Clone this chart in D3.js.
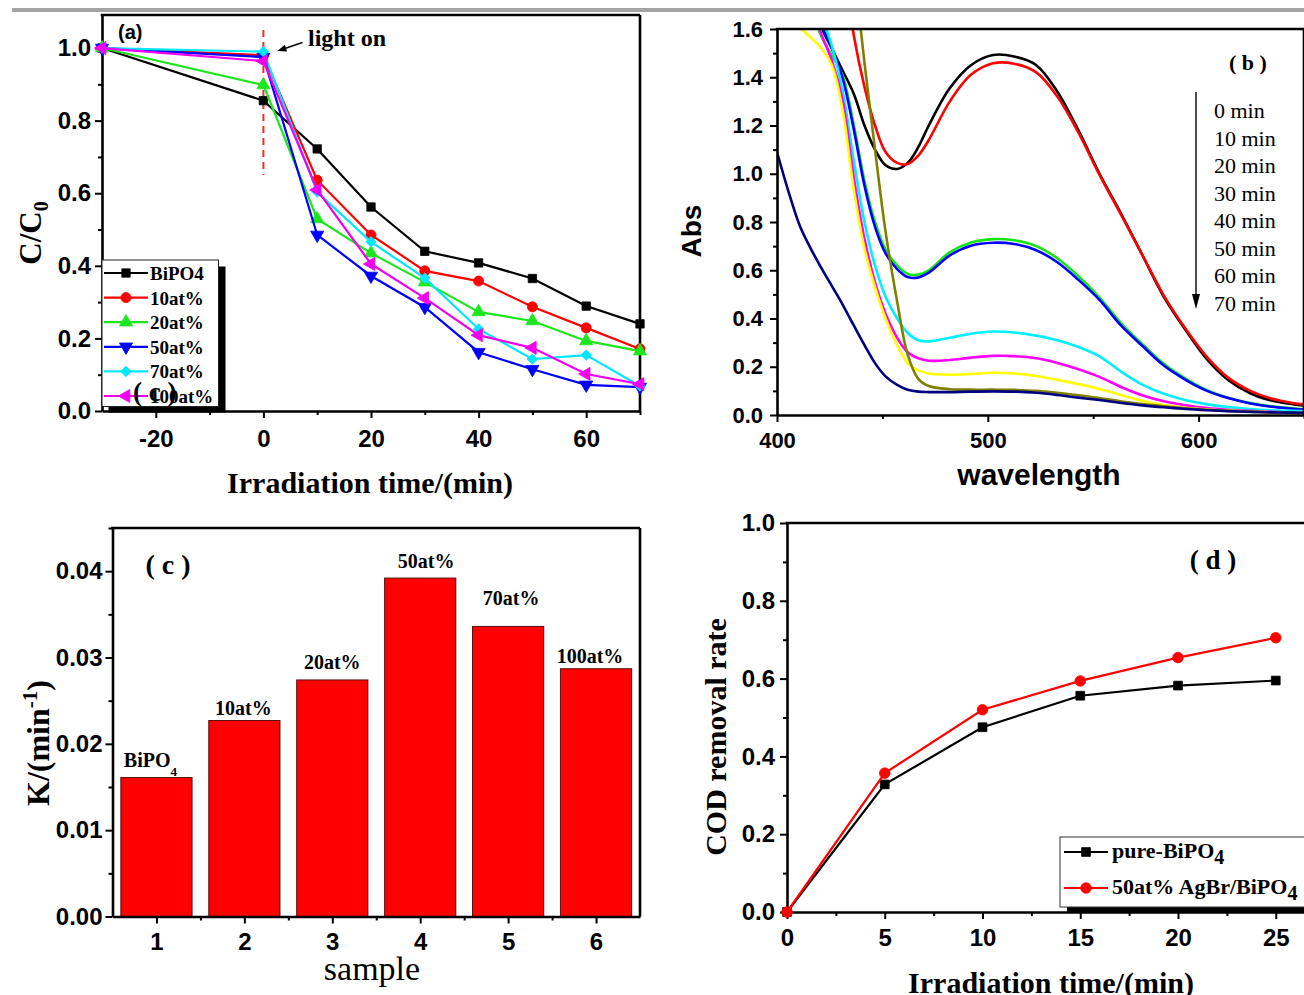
<!DOCTYPE html>
<html><head><meta charset="utf-8">
<script src="https://cdn.jsdelivr.net/npm/d3@7"></script>
<style>
html,body{margin:0;padding:0;background:#fff;}
svg{display:block;}
</style></head><body>
<svg id="fig" width="1304" height="995"></svg>
<script>
// ================= DATA =================
// Panel (a): C/C0 vs irradiation time
const timeA = [-30, 0, 10, 20, 30, 40, 50, 60, 70];
const namesA = ["BiPO4", "10at%", "20at%", "50at%", "70at%", "100at%"];
const bipo4A = [1.0, 0.855, 0.722, 0.562, 0.44, 0.408, 0.365, 0.289, 0.24];
const at10A  = [1.0, 0.98, 0.636, 0.485, 0.386, 0.358, 0.287, 0.229, 0.171];
const at20A  = [1.0, 0.898, 0.529, 0.435, 0.355, 0.273, 0.248, 0.193, 0.165];
const at50A  = [1.0, 0.975, 0.485, 0.372, 0.286, 0.162, 0.115, 0.072, 0.066];
const at70A  = [1.0, 0.99, 0.603, 0.466, 0.366, 0.226, 0.143, 0.154, 0.069];
const at100A = [1.0, 0.964, 0.609, 0.405, 0.311, 0.209, 0.174, 0.102, 0.074];
const xTicksA = [-20, 0, 20, 40, 60];
const xMinorA = [-10, 10, 30, 50, 70];
const yTicksA = [0, 0.2, 0.4, 0.6, 0.8, 1.0];
const yMinorA = [0.1, 0.3, 0.5, 0.7, 0.9];

// Panel (b): absorption spectra
const wavelengthB = [400,406,411,416,421,426,431,436.5,441.5,446.5,451.5,457,462,467,472,482,492,502.5,512.5,523,533,543,553,563.5,573.5,583.5,594,604,614,624.5,634.5,644.5,655];
const spec1 = [2.4,2.2,2.0,1.8,1.61,1.52,1.43,1.33,1.2,1.1,1.035,1.02,1.045,1.11,1.2,1.355,1.45,1.492,1.486,1.45,1.34,1.18,1.0,0.83,0.66,0.49,0.35,0.23,0.145,0.09,0.06,0.045,0.035];
const spec2 = [2.6,2.5,2.4,2.3,2.2,2.1,1.9,1.57,1.36,1.2,1.09,1.045,1.04,1.075,1.14,1.3,1.41,1.458,1.456,1.42,1.32,1.17,0.995,0.825,0.66,0.495,0.355,0.24,0.155,0.1,0.068,0.05,0.04];
const spec3 = [2.4,2.2,2.0,1.7,1.57,1.49,1.41,1.2,0.97,0.8,0.685,0.62,0.585,0.582,0.6,0.675,0.715,0.729,0.724,0.7,0.65,0.575,0.487,0.378,0.292,0.212,0.15,0.103,0.072,0.05,0.036,0.028,0.021];
const spec4 = [2.4,2.2,2.0,1.75,1.62,1.52,1.40,1.18,0.95,0.78,0.67,0.605,0.572,0.57,0.59,0.662,0.702,0.714,0.709,0.683,0.633,0.56,0.477,0.368,0.285,0.205,0.145,0.1,0.07,0.048,0.034,0.026,0.019];
const spec5 = [2.4,2.2,2.0,1.8,1.66,1.53,1.35,1.05,0.8,0.62,0.49,0.4,0.34,0.31,0.305,0.32,0.337,0.346,0.342,0.329,0.31,0.282,0.243,0.178,0.125,0.088,0.061,0.044,0.033,0.025,0.02,0.017,0.015];
const spec6 = [2.4,2.2,2.0,1.72,1.58,1.47,1.31,0.98,0.73,0.55,0.42,0.32,0.26,0.235,0.225,0.228,0.238,0.245,0.244,0.235,0.216,0.19,0.158,0.115,0.081,0.057,0.04,0.029,0.022,0.017,0.013,0.01,0.008];
const spec7 = [1.72,1.66,1.605,1.565,1.52,1.45,1.27,0.93,0.69,0.53,0.4,0.29,0.215,0.185,0.172,0.167,0.17,0.175,0.172,0.162,0.145,0.128,0.108,0.082,0.058,0.041,0.03,0.023,0.018,0.014,0.011,0.009,0.008];
const spec8 = [2.6,2.6,2.6,2.6,2.6,2.5,2.25,1.85,1.46,1.1,0.76,0.47,0.25,0.15,0.12,0.107,0.105,0.105,0.104,0.1,0.092,0.082,0.07,0.056,0.045,0.036,0.028,0.022,0.017,0.014,0.011,0.009,0.008];
const spec9 = [1.09,0.91,0.78,0.69,0.61,0.535,0.46,0.37,0.29,0.215,0.16,0.125,0.105,0.097,0.095,0.095,0.097,0.098,0.097,0.092,0.083,0.072,0.062,0.05,0.04,0.032,0.025,0.02,0.016,0.013,0.011,0.01,0.009];
const timeLabelsB = ["0 min","10 min","20 min","30 min","40 min","50 min","60 min","70 min"];
const xTicksB = [400, 500, 600];
const xMinorB = [450, 550, 650];
const yTicksB = [0, 0.2, 0.4, 0.6, 0.8, 1.0, 1.2, 1.4, 1.6];
const yMinorB = [0.1, 0.3, 0.5, 0.7, 0.9, 1.1, 1.3, 1.5];

// Panel (c): rate constants
const samplesC = [1, 2, 3, 4, 5, 6];
const kValuesC = [0.0161, 0.0227, 0.0274, 0.0392, 0.0336, 0.0287];
const barLabelsC = ["BiPO", "10at%", "20at%", "50at%", "70at%", "100at%"];
const yTicksC = [0, 0.01, 0.02, 0.03, 0.04];
const yMinorC = [0.005, 0.015, 0.025, 0.035, 0.045];
const xMinorC = [1.5, 2.5, 3.5, 4.5, 5.5];

// Panel (d): COD removal
const timeD = [0, 5, 10, 15, 20, 25];
const pureD = [0, 0.328, 0.475, 0.556, 0.582, 0.595];
const agbrD = [0, 0.357, 0.52, 0.594, 0.654, 0.705];
const xTicksD = [0, 5, 10, 15, 20, 25];
const xMinorD = [2.5, 7.5, 12.5, 17.5, 22.5];
const yTicksD = [0, 0.2, 0.4, 0.6, 0.8, 1.0];
const yMinorD = [0.1, 0.3, 0.5, 0.7, 0.9];

// ================= DRAWING =================
const SANS = "'Liberation Sans', Arial, sans-serif";
const SERIF = "'Liberation Serif', 'Times New Roman', serif";
const svg = d3.select("#fig");
svg.append("rect").attr("width", 1304).attr("height", 995).attr("fill", "#fff");
svg.append("rect").attr("x", 12).attr("y", 8).attr("width", 1292).attr("height", 4).attr("fill", "#a4a4a4");

function drawAxes(g, x, y, o) {
  const yb = y.range()[0], yt = y.range()[1];
  const xl = x.range()[0], xr = x.range()[1];
  g.append("g").attr("transform", `translate(0,${yb})`)
    .call(d3.axisBottom(x).tickValues(o.xMajor).tickSize(7).tickSizeOuter(0).tickPadding(o.xPad).tickFormat(o.xFmt));
  g.append("g").attr("transform", `translate(0,${yb})`)
    .call(d3.axisBottom(x).tickValues(o.xMinor).tickSize(4).tickSizeOuter(0).tickFormat(""))
    .select(".domain").remove();
  g.append("g").attr("transform", `translate(${xl},0)`)
    .call(d3.axisLeft(y).tickValues(o.yMajor).tickSize(7).tickSizeOuter(0).tickPadding(o.yPad).tickFormat(o.yFmt));
  g.append("g").attr("transform", `translate(${xl},0)`)
    .call(d3.axisLeft(y).tickValues(o.yMinor).tickSize(4).tickSizeOuter(0).tickFormat(""))
    .select(".domain").remove();
  g.selectAll(".domain").attr("stroke", "#000").attr("stroke-width", 2.6);
  g.selectAll(".tick line").attr("stroke", "#000").attr("stroke-width", 2);
  g.selectAll(".tick text").attr("fill", "#000")
    .style("font-family", SANS).style("font-weight", "bold").style("font-size", o.fs + "px");
  g.append("line").attr("x1", xl - 1.3).attr("x2", xr).attr("y1", yt).attr("y2", yt)
    .attr("stroke", "#000").attr("stroke-width", 2.6);
  g.append("line").attr("x1", xr).attr("x2", xr).attr("y1", yt).attr("y2", yb)
    .attr("stroke", "#000").attr("stroke-width", 2.6);
}

const shapes = {
  square: { t: d3.symbolSquare, r: 0, s: 70 },
  circle: { t: d3.symbolCircle, r: 0, s: 80 },
  up: { t: d3.symbolTriangle, r: 0, s: 75 },
  down: { t: d3.symbolTriangle, r: 180, s: 75 },
  diamond: { t: d3.symbolSquare, r: 45, s: 55 },
  left: { t: d3.symbolTriangle, r: -90, s: 75 }
};
function drawMarker(g, shape, cx, cy, color, scale) {
  const sh = shapes[shape];
  g.append("path").attr("d", d3.symbol().type(sh.t).size(sh.s * (scale || 1))())
    .attr("transform", `translate(${cx},${cy}) rotate(${sh.r})`)
    .attr("fill", color).attr("stroke", color).attr("stroke-width", 0.8);
}

// ---------- Panel (a) ----------
{
  const g = svg.append("g");
  const x = d3.scaleLinear().domain([-30, 70]).range([102, 640]);
  const y = d3.scaleLinear().domain([0, 1.091]).range([411, 15]);
  drawAxes(g, x, y, { xMajor: xTicksA, xMinor: xMinorA, yMajor: yTicksA, yMinor: yMinorA,
    xFmt: d => String(d), yFmt: d3.format(".1f"), xPad: 12, yPad: 4, fs: 24 });

  g.append("line").attr("x1", x(0)).attr("x2", x(0)).attr("y1", y(1.05)).attr("y2", y(0.65))
    .attr("stroke", "#e8302a").attr("stroke-width", 2).attr("stroke-dasharray", "7,5");

  const series = [
    { v: bipo4A, c: "#000000", m: "square" },
    { v: at10A, c: "#ff0000", m: "circle" },
    { v: at20A, c: "#1ee61e", m: "up" },
    { v: at50A, c: "#0000ff", m: "down" },
    { v: at70A, c: "#00e8ff", m: "diamond" },
    { v: at100A, c: "#f000f0", m: "left" }
  ];
  const line = d3.line().x((d, i) => x(timeA[i])).y(d => y(d));
  series.forEach(s => {
    g.append("path").attr("d", line(s.v)).attr("fill", "none").attr("stroke", s.c).attr("stroke-width", 2.2);
    s.v.forEach((d, i) => drawMarker(g, s.m, x(timeA[i]), y(d), s.c));
  });

  g.append("text").attr("x", 118).attr("y", 39).text("(a)")
    .style("font-family", SANS).style("font-weight", "bold").style("font-size", "20px");
  g.append("text").attr("x", 308).attr("y", 46).text("light on")
    .style("font-family", SERIF).style("font-weight", "bold").style("font-size", "24px");
  const tip = [x(0) + 14, y(0.992)], tail = [x(0) + 39, y(1.015)];
  g.append("line").attr("x1", tail[0]).attr("y1", tail[1]).attr("x2", tip[0] + 6).attr("y2", tip[1] - 2)
    .attr("stroke", "#000").attr("stroke-width", 1.6);
  {
    const dx = tip[0] - tail[0], dy = tip[1] - tail[1], L = Math.hypot(dx, dy);
    const ux = dx / L, uy = dy / L, bx = tip[0] - 9 * ux, by = tip[1] - 9 * uy;
    g.append("path").attr("d", `M${tip[0]},${tip[1]}L${bx - uy * 3.5},${by + ux * 3.5}L${bx + uy * 3.5},${by - ux * 3.5}Z`).attr("fill", "#000");
  }

  const lg = g.append("g");
  lg.append("rect").attr("x", 108.5).attr("y", 266.5).attr("width", 117).attr("height", 146).attr("fill", "#000");
  lg.append("rect").attr("x", 102).attr("y", 260).attr("width", 116.5).attr("height", 146.5)
    .attr("fill", "#fff").attr("stroke", "#222").attr("stroke-width", 1);
  series.forEach((s, i) => {
    const yy = 273 + i * 24.6;
    lg.append("line").attr("x1", 104).attr("x2", 148).attr("y1", yy).attr("y2", yy).attr("stroke", s.c).attr("stroke-width", 2.2);
    drawMarker(lg, s.m, 126, yy, s.c);
    lg.append("text").attr("x", 150).attr("y", yy + 7).text(namesA[i])
      .style("font-family", SERIF).style("font-weight", "bold").style("font-size", "19px");
  });
  g.append("text").attr("x", 133).attr("y", 401).text("( c )")
    .style("font-family", SERIF).style("font-weight", "bold").style("font-size", "27px");

  const yl = g.append("text").attr("transform", "translate(41,233) rotate(-90)").attr("text-anchor", "middle")
    .style("font-family", SERIF).style("font-weight", "bold").style("font-size", "31px");
  yl.append("tspan").text("C/C");
  yl.append("tspan").attr("dy", 7).style("font-size", "20px").text("0");
  g.append("text").attr("x", 370).attr("y", 493).attr("text-anchor", "middle").text("Irradiation time/(min)")
    .style("font-family", SERIF).style("font-weight", "bold").style("font-size", "30px");
}

// ---------- Panel (b) ----------
{
  const g = svg.append("g");
  const x = d3.scaleLinear().domain([400, 650]).range([777, 1304]);
  const y = d3.scaleLinear().domain([0, 1.6]).range([415, 29]);
  svg.append("defs").append("clipPath").attr("id", "clipB").append("rect")
    .attr("x", 777).attr("y", 29).attr("width", 540).attr("height", 386);
  const colors = ["#000000", "#ff0000", "#14e614", "#0000ff", "#00f0ff", "#ff00ff", "#ffff00", "#808000", "#000080"];
  const specs = [spec1, spec2, spec3, spec4, spec5, spec6, spec7, spec8, spec9];
  const line = d3.line().x((d, i) => x(wavelengthB[i])).y(d => y(d)).curve(d3.curveCatmullRom.alpha(0.5));
  const cg = g.append("g").attr("clip-path", "url(#clipB)");
  specs.forEach((s, k) => {
    cg.append("path").attr("d", line(s)).attr("fill", "none").attr("stroke", colors[k]).attr("stroke-width", 2.6);
  });
  drawAxes(g, x, y, { xMajor: xTicksB, xMinor: xMinorB, yMajor: yTicksB, yMinor: yMinorB,
    xFmt: d3.format("d"), yFmt: d3.format(".1f"), xPad: 10, yPad: 7, fs: 22 });

  g.append("text").attr("x", 1248).attr("y", 70).attr("text-anchor", "middle").text("( b )")
    .style("font-family", SERIF).style("font-weight", "bold").style("font-size", "22px");
  g.append("line").attr("x1", 1196).attr("x2", 1196).attr("y1", 92).attr("y2", 296).attr("stroke", "#000").attr("stroke-width", 1.4);
  g.append("path").attr("d", "M1196,309L1192,294L1200,294Z").attr("fill", "#000");
  timeLabelsB.forEach((t, i) => {
    g.append("text").attr("x", 1214).attr("y", 118 + i * 27.5).text(t)
      .style("font-family", SERIF).style("font-size", "22px");
  });
  g.append("text").attr("transform", "translate(701,231) rotate(-90)").attr("text-anchor", "middle").text("Abs")
    .style("font-family", SANS).style("font-weight", "bold").style("font-size", "28px");
  g.append("text").attr("x", 1039).attr("y", 485).attr("text-anchor", "middle").text("wavelength")
    .style("font-family", SANS).style("font-weight", "bold").style("font-size", "30px");
}

// ---------- Panel (c) ----------
{
  const g = svg.append("g");
  const x = d3.scaleLinear().domain([0.5, 6.5]).range([112.5, 640]);
  const y = d3.scaleLinear().domain([0, 0.045]).range([916.5, 528]);
  const bw = (x(1.81) - x(1));
  const nudgeDy = [11, 6, 11, 10, 21, 6];
  const nudgeDx = [-6, -1, 0, 6, 3, -6];
  samplesC.forEach((s, i) => {
    g.append("rect").attr("x", x(s) - bw / 2).attr("y", y(kValuesC[i])).attr("width", bw)
      .attr("height", y(0) - y(kValuesC[i])).attr("fill", "#ff0000").attr("stroke", "#5a1010").attr("stroke-width", 1);
  });
  drawAxes(g, x, y, { xMajor: samplesC, xMinor: xMinorC, yMajor: yTicksC, yMinor: yMinorC,
    xFmt: d3.format("d"), yFmt: d3.format(".2f"), xPad: 9, yPad: 3, fs: 24 });
  samplesC.forEach((s, i) => {
    const t = g.append("text").attr("x", x(s) + nudgeDx[i]).attr("y", y(kValuesC[i]) - nudgeDy[i])
      .attr("text-anchor", "middle")
      .style("font-family", SERIF).style("font-weight", "bold").style("font-size", "20px");
    t.append("tspan").text(barLabelsC[i]);
    if (i === 0) t.append("tspan").attr("dy", 9).style("font-size", "13px").text("4");
  });
  g.append("text").attr("x", 168).attr("y", 574).attr("text-anchor", "middle").text("( c )")
    .style("font-family", SERIF).style("font-weight", "bold").style("font-size", "28px");
  const yl = g.append("text").attr("transform", "translate(49,743) rotate(-90)").attr("text-anchor", "middle")
    .style("font-family", SERIF).style("font-weight", "bold").style("font-size", "32px");
  yl.append("tspan").text("K/(min");
  yl.append("tspan").attr("dy", -12).style("font-size", "21px").text("-1");
  yl.append("tspan").attr("dy", 12).text(")");
  g.append("text").attr("x", 372).attr("y", 980).attr("text-anchor", "middle").text("sample")
    .style("font-family", SERIF).style("font-size", "34px");
}

// ---------- Panel (d) ----------
{
  const g = svg.append("g");
  const x = d3.scaleLinear().domain([0, 27]).range([787, 787 + 27 * 19.55]);
  const y = d3.scaleLinear().domain([0, 1]).range([912, 523]);
  drawAxes(g, x, y, { xMajor: xTicksD, xMinor: xMinorD, yMajor: yTicksD, yMinor: yMinorD,
    xFmt: d3.format("d"), yFmt: d3.format(".1f"), xPad: 10, yPad: 5, fs: 24 });
  const line = d3.line().x((d, i) => x(timeD[i])).y(d => y(d));
  const series = [
    { v: pureD, c: "#000000", m: "square" },
    { v: agbrD, c: "#ff0000", m: "circle" }
  ];
  series.forEach(s => {
    g.append("path").attr("d", line(s.v)).attr("fill", "none").attr("stroke", s.c).attr("stroke-width", 2.2);
    s.v.forEach((d, i) => drawMarker(g, s.m, x(timeD[i]), y(d), s.c, 1.1));
  });
  const lg = g.append("g");
  lg.append("rect").attr("x", 1067).attr("y", 843).attr("width", 260).attr("height", 70).attr("fill", "#000");
  lg.append("rect").attr("x", 1060).attr("y", 837).attr("width", 260).attr("height", 70)
    .attr("fill", "#fff").attr("stroke", "#333").attr("stroke-width", 1);
  const legTexts = [["pure-BiPO", "4"], ["50at% AgBr/BiPO", "4"]];
  series.forEach((s, i) => {
    const yy = 852 + i * 36;
    lg.append("line").attr("x1", 1064).attr("x2", 1108).attr("y1", yy).attr("y2", yy).attr("stroke", s.c).attr("stroke-width", 2.2);
    drawMarker(lg, s.m, 1086, yy, s.c, 1.1);
    const t = lg.append("text").attr("x", 1112).attr("y", yy + 6)
      .style("font-family", SERIF).style("font-weight", "bold").style("font-size", "22px");
    t.append("tspan").text(legTexts[i][0]);
    t.append("tspan").attr("dy", 6).style("font-size", "20px").text(legTexts[i][1]);
  });
  g.append("text").attr("x", 1213).attr("y", 569).attr("text-anchor", "middle").text("( d )")
    .style("font-family", SERIF).style("font-weight", "bold").style("font-size", "27px");
  g.append("text").attr("transform", "translate(726,737) rotate(-90)").attr("text-anchor", "middle").text("COD removal rate")
    .style("font-family", SERIF).style("font-weight", "bold").style("font-size", "30px");
  g.append("text").attr("x", 1051).attr("y", 993).attr("text-anchor", "middle").text("Irradiation time/(min)")
    .style("font-family", SERIF).style("font-weight", "bold").style("font-size", "30px");
}
</script>
</body></html>
